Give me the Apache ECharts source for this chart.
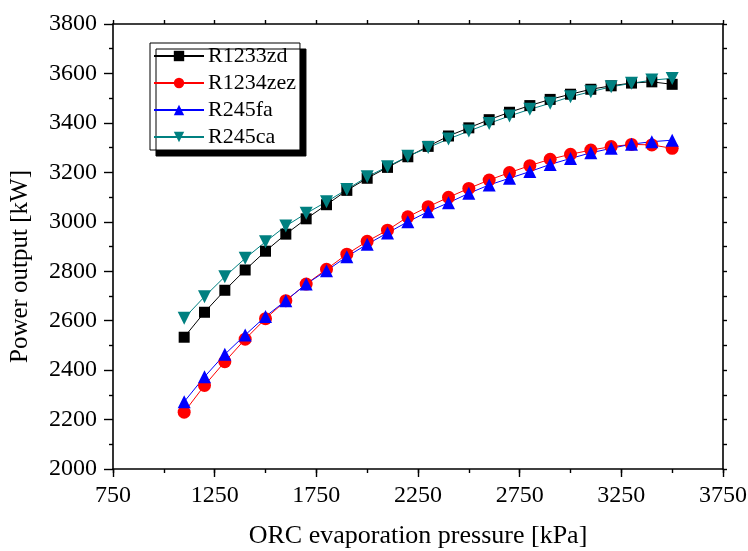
<!DOCTYPE html>
<html>
<head>
<meta charset="utf-8">
<script src="https://cdn.jsdelivr.net/npm/echarts@6/dist/echarts.min.js"></script>
<style>
html,body{margin:0;padding:0;background:#fff;}
#chart{width:748px;height:551px;}
</style>
</head>
<body>
<div id="chart"></div>
<script>
const pressure = [1100,1200,1300,1400,1500,1600,1700,1800,1900,2000,2100,2200,2300,2400,2500,2600,2700,2800,2900,3000,3100,3200,3300,3400,3500];
const r1233zd  = [2533,2634,2723,2805,2881,2950,3012,3069,3127,3176,3220,3263,3305,3347,3380,3413,3443,3470,3495,3516,3536,3550,3561,3566,3556];
const r1234zez = [2230,2338,2434,2525,2608,2681,2748,2808,2869,2921,2966,3020,3061,3099,3135,3169,3199,3227,3253,3273,3290,3304,3313,3311,3297];
const r245fa   = [2272,2373,2464,2542,2617,2681,2748,2802,2859,2909,2955,3000,3041,3077,3115,3149,3176,3203,3232,3256,3279,3297,3314,3324,3330];
const r245ca   = [2610,2697,2778,2852,2919,2983,3034,3081,3131,3182,3223,3265,3300,3335,3367,3398,3428,3455,3479,3506,3526,3546,3560,3573,3580];
const xMajorTicks = [750,1250,1750,2250,2750,3250,3750];
const seriesNames = ['R1233zd','R1234zez','R245fa','R245ca'];

const FONT = 'Liberation Serif';
const chart = echarts.init(document.getElementById('chart'), null, {renderer:'canvas'});

function pairs(ys){ return pressure.map((x,i)=>[x, ys[i]]); }
function mk(name, data, color, symbol, size){
  return {
    name, type:'line', data: pairs(data), xAxisIndex:0, yAxisIndex:0,
    symbol, symbolSize:size, showSymbol:true,
    lineStyle:{color, width:1},
    itemStyle:{color, borderWidth:0},
    emphasis:{disabled:true}, animation:false
  };
}
const axLine = {show:true, lineStyle:{color:'#000', width:1.6}};
const plain = v => String(v);

chart.setOption({
  backgroundColor:'#fff',
  animation:false,
  textStyle:{fontFamily:FONT, color:'#000'},
  grid:{left:113, right:25, top:24, bottom:82, containLabel:false, outerBoundsMode:'none'},
  legend:{
    data: seriesNames,
    orient:'vertical',
    left:150, top:43,
    padding:[2,4,2,3],
    itemWidth:50, itemHeight:13, itemGap:5,
    backgroundColor:'#fff',
    borderColor:'#000', borderWidth:1,
    shadowColor:'#000', shadowBlur:0, shadowOffsetX:6, shadowOffsetY:6,
    textStyle:{fontFamily:FONT, fontSize:22, color:'#000', padding:[0,0,0,-1]}
  },
  xAxis:[
    {
      type:'value', min:750, max:3750, interval:250, position:'bottom',
      name:'ORC evaporation pressure [kPa]', nameLocation:'middle', nameGap:54,
      nameTextStyle:{fontFamily:FONT, fontSize:26, color:'#000'},
      axisLine: axLine,
      axisTick:{show:true, inside:false, length:8, lineStyle:{color:'#000', width:1.4}, customValues:xMajorTicks},
      axisLabel:{fontFamily:FONT, fontSize:24, color:'#000', margin:15, customValues:xMajorTicks, formatter:plain},
      splitLine:{show:false}
    },
    {
      type:'value', min:750, max:3750, interval:250, position:'bottom', gridIndex:0,
      axisLine:{show:false},
      axisTick:{show:true, inside:false, length:4, lineStyle:{color:'#000', width:1.4}},
      axisLabel:{show:false}, splitLine:{show:false}
    },
    {
      type:'value', min:750, max:3750, interval:250, position:'top', gridIndex:0,
      axisLine: axLine,
      axisTick:{show:true, inside:false, length:4, lineStyle:{color:'#000', width:1.4}},
      axisLabel:{show:false}, splitLine:{show:false}
    }
  ],
  yAxis:[
    {
      type:'value', min:2000, max:3800, interval:200, position:'left',
      name:'Power output [kW]', nameLocation:'middle', nameGap:80, nameRotate:90,
      nameTextStyle:{fontFamily:FONT, fontSize:25, color:'#000', padding:[0,40,0,0]},
      axisLine: axLine,
      axisTick:{show:true, inside:false, length:9, lineStyle:{color:'#000', width:1.4}},
      minorTick:{show:true, splitNumber:2, length:4, lineStyle:{color:'#000', width:1.4}},
      axisLabel:{fontFamily:FONT, fontSize:24, color:'#000', margin:16, formatter:plain},
      splitLine:{show:false}, minorSplitLine:{show:false}
    },
    {
      type:'value', min:2000, max:3800, interval:100, position:'right',
      axisLine: axLine,
      axisTick:{show:true, inside:false, length:4, lineStyle:{color:'#000', width:1.4}},
      axisLabel:{show:false}, splitLine:{show:false}
    }
  ],
  series:[
    mk('R1233zd', r1233zd, '#000000', 'rect', 11),
    mk('R1234zez', r1234zez, '#ff0000', 'circle', 13),
    mk('R245fa', r245fa, '#0000ff', 'triangle', 13),
    mk('R245ca', r245ca, '#008080', 'path://M0,0 L10,0 L5,9 Z', 13)
  ]
});
</script>
</body>
</html>
